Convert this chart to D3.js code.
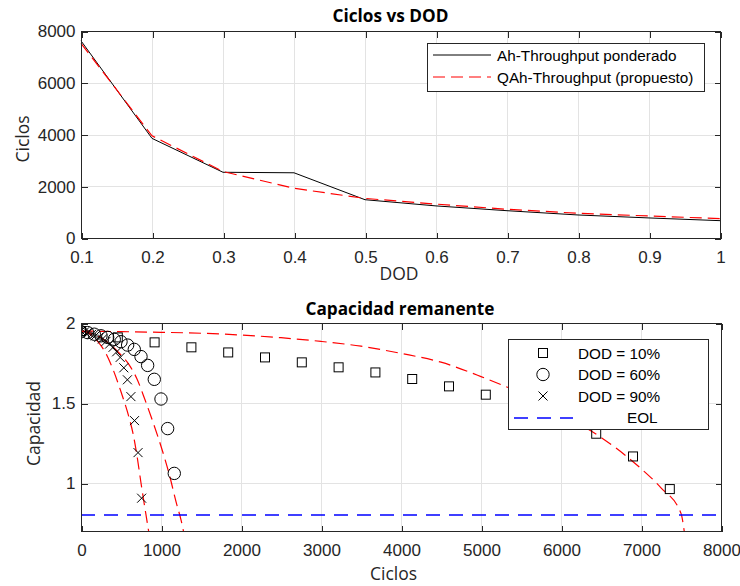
<!DOCTYPE html>
<html><head><meta charset="utf-8">
<script src="https://cdn.jsdelivr.net/npm/d3@7"></script>
<style>
html,body{margin:0;padding:0;background:#fff;}
svg{display:block;}
</style></head>
<body>
<script>
// ---------- Top chart data ----------
const dodValues = [0.1, 0.2, 0.3, 0.4, 0.5, 0.6, 0.7, 0.8, 0.9, 1.0];
const ahThroughputPonderado = [7620, 3850, 2540, 2520, 1480, 1240, 1055, 890, 775, 670];
const qahThroughputPropuesto = [7520, 3950, 2570, 1920, 1530, 1310, 1110, 955, 850, 750];
const topXTicks = [0.1, 0.2, 0.3, 0.4, 0.5, 0.6, 0.7, 0.8, 0.9, 1];
const topXTickLabels = ["0.1", "0.2", "0.3", "0.4", "0.5", "0.6", "0.7", "0.8", "0.9", "1"];
const topYTicks = [0, 2000, 4000, 6000, 8000];
const topYTickLabels = ["0", "2000", "4000", "6000", "8000"];

// ---------- Bottom chart data ----------
const dod10Cycles = [0, 460, 920, 1380, 1840, 2300, 2760, 3220, 3680, 4140, 4600, 5060, 5520, 5980, 6440, 6900, 7360];
const dod10Capacity = [1.95, 1.91, 1.879, 1.848, 1.816, 1.785, 1.754, 1.723, 1.691, 1.65, 1.604, 1.552, 1.49, 1.41, 1.308, 1.166, 0.962];
const dod60Cycles = [0, 83, 166, 250, 333, 416, 500, 583, 666, 750, 833, 916, 1000, 1083, 1166];
const dod60Capacity = [1.945, 1.94, 1.93, 1.92, 1.91, 1.898, 1.883, 1.862, 1.835, 1.79, 1.735, 1.648, 1.525, 1.34, 1.06];
const dod90Cycles = [0, 45, 89, 134, 178, 223, 268, 312, 357, 401, 446, 490, 535, 580, 624, 669, 713, 758];
const dod90Capacity = [1.95, 1.945, 1.94, 1.93, 1.92, 1.91, 1.9, 1.885, 1.868, 1.848, 1.82, 1.785, 1.72, 1.645, 1.54, 1.39, 1.19, 0.905];

const fit10Cycles = [0, 500, 1000, 1500, 2000, 2500, 3000, 3500, 4000, 4500, 5000, 5500, 6000, 6500, 7000, 7250, 7500, 7540];
const fit10Capacity = [1.95, 1.946, 1.942, 1.936, 1.925, 1.908, 1.885, 1.855, 1.81, 1.755, 1.665, 1.56, 1.43, 1.285, 1.09, 0.97, 0.81, 0.70];
const fit60Cycles = [0, 100, 200, 300, 400, 500, 600, 700, 800, 900, 1000, 1100, 1200, 1250, 1280];
const fit60Capacity = [1.95, 1.94, 1.92, 1.89, 1.85, 1.80, 1.74, 1.65, 1.52, 1.38, 1.23, 1.06, 0.86, 0.77, 0.70];
const fit90Cycles = [0, 100, 200, 300, 400, 500, 600, 650, 700, 750, 800, 845];
const fit90Capacity = [1.95, 1.935, 1.89, 1.82, 1.71, 1.57, 1.41, 1.31, 1.17, 1.0, 0.84, 0.70];

const eolCapacity = 0.8;
const eolRange = [0, 8000];

const botXTicks = [0, 1000, 2000, 3000, 4000, 5000, 6000, 7000, 8000];
const botXTickLabels = ["0", "1000", "2000", "3000", "4000", "5000", "6000", "7000", "8000"];
const botYTicks = [1, 1.5, 2];
const botYTickLabels = ["1", "1.5", "2"];

const legendTopLabels = ["Ah-Throughput ponderado", "QAh-Throughput (propuesto)"];
const legendBotLabels = ["DOD = 10%", "DOD = 60%", "DOD = 90%", "EOL"];

// ---------- Styling ----------
const W = 740, H = 586;
const AX = "#262626", GRID = "#e3e3e3";
const RED = "#ff0000", BLUE = "#0000ff";
const TICKFONT = "'Liberation Sans', Arial, sans-serif";
const LABELFONT = "'Open Sans', 'Noto Sans', sans-serif";
const LEGFONT = "'Liberation Sans', Arial, sans-serif";

const svg = d3.select("body").append("svg").attr("width", W).attr("height", H);
const defs = svg.append("defs");

function drawGrid(g, x, y, xt, yt, L, R, T, B) {
  g.append("g").selectAll("line").data(xt).join("line")
    .attr("x1", d => Math.round(x(d))).attr("x2", d => Math.round(x(d))).attr("y1", T).attr("y2", B)
    .attr("stroke", GRID).attr("stroke-width", 1).attr("shape-rendering", "crispEdges");
  g.append("g").selectAll("line").data(yt).join("line")
    .attr("x1", L).attr("x2", R).attr("y1", d => Math.round(y(d))).attr("y2", d => Math.round(y(d)))
    .attr("stroke", GRID).attr("stroke-width", 1).attr("shape-rendering", "crispEdges");
}

function drawFrame(g, x, y, xt, xtl, yt, ytl, L, R, T, B) {
  const ax = g.append("g").attr("transform", `translate(0,${B})`)
    .call(d3.axisBottom(x).tickValues(xt).tickFormat((d, i) => xtl[i]).tickSize(-6).tickPadding(12));
  const axT = g.append("g").attr("transform", `translate(0,${T})`)
    .call(d3.axisTop(x).tickValues(xt).tickFormat("").tickSize(-6));
  const ay = g.append("g").attr("transform", `translate(${L},0)`)
    .call(d3.axisLeft(y).tickValues(yt).tickFormat((d, i) => ytl[i]).tickSize(-6).tickPadding(6));
  const ayR = g.append("g").attr("transform", `translate(${R},0)`)
    .call(d3.axisRight(y).tickValues(yt).tickFormat("").tickSize(-6));
  [ax, axT, ay, ayR].forEach(a => {
    a.select(".domain").remove();
    a.selectAll(".tick line").attr("stroke", AX).attr("shape-rendering", "crispEdges");
    a.selectAll(".tick text").attr("fill", AX).style("font-family", TICKFONT).style("font-size", "17px");
  });
  g.append("rect").attr("x", L).attr("y", T).attr("width", R - L).attr("height", B - T)
    .attr("fill", "none").attr("stroke", AX).attr("stroke-width", 1).attr("shape-rendering", "crispEdges");
}

// ================= TOP CHART =================
{
  const L = 81, R = 720, T = 31, B = 238;
  const x = d3.scaleLinear().domain([0.1, 1]).range([L, R]);
  const y = d3.scaleLinear().domain([0, 8000]).range([B, T]);
  const gGrid = svg.append("g").attr("transform", "translate(0.5,0.5)");
  const gData = svg.append("g");
  const gFrame = svg.append("g").attr("transform", "translate(0.5,0.5)");
  const gLeg = svg.append("g");
  drawGrid(gGrid, x, y, topXTicks, topYTicks, L, R, T, B);

  const line = d3.line().x((d, i) => x(dodValues[i])).y(d => y(d));
  gData.append("path").datum(ahThroughputPonderado).attr("d", line)
    .attr("fill", "none").attr("stroke", "#000").attr("stroke-width", 1);
  gData.append("path").datum(qahThroughputPropuesto).attr("d", line)
    .attr("fill", "none").attr("stroke", RED).attr("stroke-width", 1.2).attr("stroke-dasharray", "12,6");

  drawFrame(gFrame, x, y, topXTicks, topXTickLabels, topYTicks, topYTickLabels, L, R, T, B);

  gFrame.append("text").attr("x", 390).attr("y", 21).attr("text-anchor", "middle")
    .attr("textLength", 116).attr("lengthAdjust", "spacingAndGlyphs")
    .style("font-family", LABELFONT).style("font-weight", "bold").style("font-size", "17.5px").text("Ciclos vs DOD");
  gFrame.append("text").attr("x", (L + R) / 2 - 2).attr("y", 279).attr("text-anchor", "middle").attr("fill", AX)
    .style("font-family", LABELFONT).style("font-size", "17.5px").text("DOD");
  gFrame.append("text").attr("transform", `translate(28,${(T + B) / 2 + 4}) rotate(-90)`).attr("text-anchor", "middle").attr("fill", AX)
    .style("font-family", LABELFONT).style("font-size", "17.5px").text("Ciclos");

  // legend
  gLeg.append("rect").attr("x", 427.5).attr("y", 43.5).attr("width", 277).attr("height", 48)
    .attr("fill", "#fff").attr("stroke", AX).attr("stroke-width", 1).attr("shape-rendering", "crispEdges");
  const rows = [55, 77];
  gLeg.append("line").attr("x1", 433).attr("x2", 491).attr("y1", rows[0]).attr("y2", rows[0]).attr("stroke", "#000");
  gLeg.append("line").attr("x1", 433).attr("x2", 491).attr("y1", rows[1]).attr("y2", rows[1])
    .attr("stroke", RED).attr("stroke-width", 1.2).attr("stroke-dasharray", "12,6");
  gLeg.selectAll("text.l").data(legendTopLabels).join("text").attr("class", "l")
    .attr("x", 497).attr("y", (d, i) => rows[i]).attr("dy", "0.36em").attr("fill", "#000")
    .style("font-family", LEGFONT).style("font-size", "15.3px").text(d => d);
}

// ================= BOTTOM CHART =================
{
  const L = 81, R = 721, T = 323, B = 531;
  const x = d3.scaleLinear().domain([0, 8000]).range([L, R]);
  const y = d3.scaleLinear().domain([0.7, 2]).range([B, T]);
  const gGrid = svg.append("g").attr("transform", "translate(0.5,0.5)");
  const gDataOuter = svg.append("g");
  const gFrame = svg.append("g").attr("transform", "translate(0.5,0.5)");
  const gLeg = svg.append("g");
  drawGrid(gGrid, x, y, botXTicks, botYTicks, L, R, T, B);

  defs.append("clipPath").attr("id", "clipBot").append("rect")
    .attr("x", L).attr("y", T).attr("width", R - L + 1).attr("height", B - T + 1);
  const data = gDataOuter.append("g").attr("clip-path", "url(#clipBot)");

  // fitted curves
  const fits = [[fit10Cycles, fit10Capacity], [fit60Cycles, fit60Capacity], [fit90Cycles, fit90Capacity]];
  fits.forEach(([cx, cy]) => {
    const line = d3.line().curve(d3.curveMonotoneX).x((d, i) => x(cx[i])).y(d => y(d));
    data.append("path").datum(cy).attr("d", line).attr("fill", "none")
      .attr("stroke", RED).attr("stroke-width", 1.2).attr("stroke-dasharray", "12,6");
  });

  // EOL
  data.append("line").attr("x1", x(eolRange[0])).attr("x2", x(eolRange[1]))
    .attr("y1", y(eolCapacity)).attr("y2", y(eolCapacity))
    .attr("stroke", BLUE).attr("stroke-width", 1.3).attr("stroke-dasharray", "14,9");

  // markers
  data.append("g").selectAll("rect").data(dod10Capacity).join("rect")
    .attr("x", (d, i) => x(dod10Cycles[i]) - 4.5).attr("y", d => y(d) - 4.5)
    .attr("width", 9).attr("height", 9).attr("fill", "none").attr("stroke", "#000").attr("stroke-width", 1);
  data.append("g").selectAll("circle").data(dod60Capacity).join("circle")
    .attr("cx", (d, i) => x(dod60Cycles[i])).attr("cy", d => y(d)).attr("r", 6.2)
    .attr("fill", "none").attr("stroke", "#000").attr("stroke-width", 1);
  const cross = (cx, cy, s) => `M${cx - s},${cy - s}L${cx + s},${cy + s}M${cx - s},${cy + s}L${cx + s},${cy - s}`;
  data.append("g").selectAll("path").data(dod90Capacity).join("path")
    .attr("d", (d, i) => cross(x(dod90Cycles[i]), y(d), 4.5))
    .attr("fill", "none").attr("stroke", "#000").attr("stroke-width", 1);

  drawFrame(gFrame, x, y, botXTicks, botXTickLabels, botYTicks, botYTickLabels, L, R, T, B);

  gFrame.append("text").attr("x", 399.5).attr("y", 314).attr("text-anchor", "middle")
    .attr("textLength", 189).attr("lengthAdjust", "spacingAndGlyphs")
    .style("font-family", LABELFONT).style("font-weight", "bold").style("font-size", "17.5px").text("Capacidad remanente");
  gFrame.append("text").attr("x", (L + R) / 2 - 8).attr("y", 579).attr("text-anchor", "middle").attr("fill", AX)
    .style("font-family", LABELFONT).style("font-size", "17.5px").text("Ciclos");
  gFrame.append("text").attr("transform", `translate(39,${(T + B) / 2 - 4}) rotate(-90)`).attr("text-anchor", "middle").attr("fill", AX)
    .style("font-family", LABELFONT).style("font-size", "17.5px").text("Capacidad");

  // legend
  gLeg.append("rect").attr("x", 508.5).attr("y", 339.5).attr("width", 200).attr("height", 90)
    .attr("fill", "#fff").attr("stroke", AX).attr("stroke-width", 1).attr("shape-rendering", "crispEdges");
  const rows = [353, 374.5, 396, 417.5];
  const mx = 543;
  gLeg.append("rect").attr("x", mx - 4.5).attr("y", rows[0] - 4.5).attr("width", 9).attr("height", 9)
    .attr("fill", "none").attr("stroke", "#000");
  gLeg.append("circle").attr("cx", mx).attr("cy", rows[1]).attr("r", 6.2).attr("fill", "none").attr("stroke", "#000");
  gLeg.append("path").attr("d", cross(mx, rows[2], 4.5)).attr("stroke", "#000");
  gLeg.append("line").attr("x1", 514).attr("x2", 573).attr("y1", 418).attr("y2", 418)
    .attr("stroke", BLUE).attr("stroke-width", 1.3).attr("stroke-dasharray", "14,9");
  gLeg.selectAll("text.l").data(legendBotLabels).join("text").attr("class", "l")
    .attr("x", (d, i) => i < 3 ? 578 : 627).attr("y", (d, i) => rows[i]).attr("dy", "0.36em").attr("fill", "#000")
    .style("font-family", LEGFONT).style("font-size", "15.3px").text(d => d);
}
</script>
</body></html>
